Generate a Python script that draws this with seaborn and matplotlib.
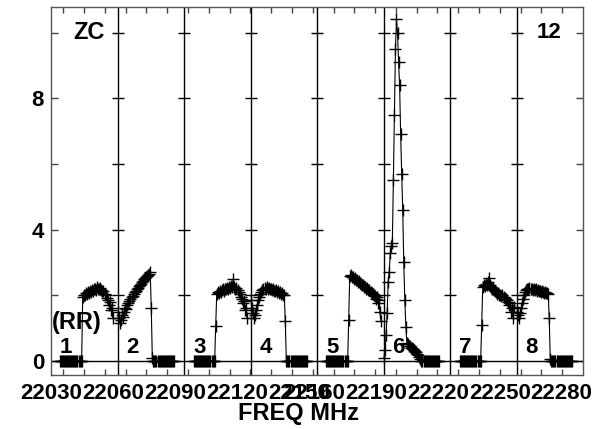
import numpy as np
import pandas as pd
import matplotlib
matplotlib.use("Agg")
import matplotlib.pyplot as plt
import seaborn as sns

nan = np.nan

# intensity per channel (64 channels) for each of the 8 sub-bands
band1 = [nan, nan, nan, nan, nan, nan, nan, nan,
         0.0, 0.0, 0.0, 0.0, 0.0, 0.0, 0.0, 0.0, 0.0, 0.0, 0.0,
         0.0, 0.0, 0.0, 0.0, 0.0, 0.0, 0.0, 0.0, 0.0, 0.0, 0.0,
         1.95, 2.02, 2.0, 2.06, 2.04, 2.1, 2.08, 2.12, 2.1, 2.15,
         2.13, 2.18, 2.2, 2.16, 2.24, 2.2, 2.18, 2.22, 2.15, 2.12,
         2.14, 2.05, 2.0, 1.92, 1.85, 1.7, 1.78, 1.55, 1.62, 1.3,
         nan, nan, nan, nan]
band2 = [1.5, 1.3, 1.15, 1.25, 1.4, 1.35, 1.5, 1.6, 1.58, 1.7,
         1.75, 1.82, 1.88, 1.95, 1.98, 2.05, 2.1, 2.12, 2.18, 2.22,
         2.28, 2.3, 2.35, 2.4, 2.42, 2.48, 2.52, 2.55, 2.6, 2.62, 2.66, 2.7,
         1.6, 0.1,
         0.0, 0.0, 0.0, 0.0, 0.0, 0.0, 0.0, 0.0, 0.0, 0.0, 0.0,
         0.0, 0.0, 0.0, 0.0, 0.0, 0.0, 0.0, 0.0, 0.0, 0.0,
         nan, nan, nan, nan, nan, nan, nan, nan, nan]
band3 = [nan, nan, nan, nan, nan, nan, nan, nan, nan,
         0.0, 0.0, 0.0, 0.0, 0.0, 0.0, 0.0, 0.0, 0.0, 0.0, 0.0,
         0.0, 0.0, 0.0, 0.0, 0.0, 0.0, 0.0, 0.0, 0.0, 0.0,
         1.05,
         2.05, 2.1, 2.08, 2.12, 2.1, 2.15, 2.18, 2.14, 2.2, 2.18,
         2.22, 2.2, 2.25, 2.22, 2.28, 2.24, 2.5, 2.26, 2.2, 2.22,
         2.15, 2.1, 2.05, 1.95, 1.88, 1.75, 1.82, 1.55, 1.62, 1.3,
         nan, nan, nan]
band4 = [1.85, 1.6, 1.45, 1.3, 1.4, 1.55, 1.7, 1.85, 1.95, 2.05,
         2.1, 2.15, 2.18, 2.22, 2.2, 2.25, 2.2, 2.22, 2.18, 2.2,
         2.16, 2.18, 2.14, 2.12, 2.15, 2.1, 2.12, 2.08, 2.1, 2.05,
         2.06, 2.02, 2.0,
         1.2,
         0.0, 0.0, 0.0, 0.0, 0.0, 0.0, 0.0, 0.0, 0.0, 0.0, 0.0,
         0.0, 0.0, 0.0, 0.0, 0.0, 0.0, 0.0, 0.0, 0.0, 0.0,
         nan, nan, nan, nan, nan, nan, nan, nan, nan]
band5 = [nan, nan, nan, nan, nan, nan, nan, nan,
         0.0, 0.0, 0.0, 0.0, 0.0, 0.0, 0.0, 0.0, 0.0, 0.0, 0.0,
         0.0, 0.0, 0.0, 0.0, 0.0, 0.0, 0.0, 0.0, 0.0, 0.0, 0.0,
         1.25,
         2.6, 2.62, 2.56, 2.55, 2.5, 2.52, 2.46, 2.45, 2.4, 2.42,
         2.36, 2.35, 2.3, 2.32, 2.26, 2.25, 2.2, 2.22, 2.16, 2.15,
         2.1, 2.08, 2.04, 2.0, 1.98, 1.9, 1.95, 1.75, 1.85, 1.5, 1.22,
         nan, nan]
band6 = [0.1, 0.33, 0.8, 1.46, 2.4, 2.7, 3.3, 3.5, 3.6, 5.5,
         7.5, 9.5, 10.4, 10.0, 9.1, 8.4, 6.9, 5.7, 4.6, 3.0,
         1.86, 1.04, 0.55,
         0.5, 0.46, 0.44, 0.4, 0.38, 0.35, 0.32, 0.3, 0.26, 0.22,
         0.18, 0.12, 0.06,
         0.0, 0.0, 0.0, 0.0, 0.0, 0.0, 0.0, 0.0, 0.0,
         0.0, 0.0, 0.0, 0.0, 0.0, 0.0, 0.0, 0.0, 0.0,
         nan, nan, nan, nan, nan, nan, nan, nan, nan, nan]
band7 = [nan, nan, nan, nan, nan, nan, nan, nan, nan,
         0.0, 0.0, 0.0, 0.0, 0.0, 0.0, 0.0, 0.0, 0.0, 0.0, 0.0,
         0.0, 0.0, 0.0, 0.0, 0.0, 0.0, 0.0, 0.0, 0.0, 0.0,
         1.1,
         2.25, 2.3, 2.28, 2.35, 2.32, 2.4, 2.52, 2.3, 2.25, 2.2,
         2.22, 2.15, 2.12, 2.1, 2.05, 2.08, 2.02, 2.0, 1.98, 2.0,
         1.95, 1.92, 1.9, 1.85, 1.8, 1.7, 1.75, 1.5, 1.6, 1.3, 1.65,
         nan, nan]
band8 = [1.5, 1.4, 1.3, 1.45, 1.6, 1.75, 1.9, 2.0, 2.1, 2.15,
         2.18, 2.2, 2.22, 2.18, 2.2, 2.16, 2.2, 2.15, 2.18, 2.14,
         2.15, 2.12, 2.14, 2.1, 2.12, 2.1, 2.08, 2.1, 2.06, 2.08, 2.05,
         1.3, 0.05,
         0.0, 0.0, 0.0, 0.0, 0.0, 0.0, 0.0, 0.0, 0.0, 0.0, 0.0,
         0.0, 0.0, 0.0, 0.0, 0.0, 0.0, 0.0, 0.0, 0.0, 0.0,
         nan, nan, nan, nan, nan, nan, nan, nan, nan, nan]

bands = [band1, band2, band3, band4, band5, band6, band7, band8]
band_names = ["1", "2", "3", "4", "5", "6", "7", "8"]

freq_labels = ["22030", "22060", "22090", "22120", "22150",
               "22160", "22190", "22220", "22250", "22280"]
freq_pos = [0.0, 0.93, 1.865, 2.8, 3.73, 3.955, 4.885, 5.82, 6.75, 7.67]

rows = []
for b, vals in enumerate(bands):
    n = len(vals)
    for i, v in enumerate(vals):
        rows.append((b, b + (i + 0.5) / n, v))
df = pd.DataFrame(rows, columns=["band", "x", "y"]).dropna()

sns.set_style("ticks")
plt.rcParams["font.family"] = ["Liberation Sans", "DejaVu Sans"]
plt.rcParams["font.weight"] = "bold"
plt.rcParams["text.color"] = "black"
plt.rcParams["axes.labelcolor"] = "black"
plt.rcParams["xtick.color"] = "black"
plt.rcParams["ytick.color"] = "black"

fig = plt.figure(figsize=(5.97, 4.29), dpi=100)
ax = fig.add_axes([51 / 597, 1 - 375 / 429, 532 / 597, 368 / 429])

# baseline and sub-band separators
ax.axhline(0, color="black", lw=1, zorder=1)
for b in range(1, 8):
    ax.axvline(b, color="black", lw=1, zorder=1)
    ax.scatter([b] * 5, [2, 4, 6, 8, 10], marker="_", s=75, color="black", lw=1, zorder=1)

sns.lineplot(data=df, x="x", y="y", units="band", estimator=None, color="black",
             marker="+", markersize=8.3, markeredgewidth=1, markeredgecolor="black",
             lw=0.8, ax=ax)

ax.set_xlim(0, 8)
ax.set_ylim(-0.43, 10.78)

ax.set_yticks([0, 2, 4, 6, 8, 10], ["0", "", "4", "", "8", ""])
ax.tick_params(axis="y", direction="in", length=5, width=1, right=True, pad=5,
               labelsize=16, color="#444444", labelcolor="black")

ax.set_xticks(freq_pos, freq_labels)
ax.set_xticks(np.arange(0.185, 7.8, 0.3126), minor=True)
ax.tick_params(axis="x", which="major", length=0, pad=5.5, labelsize=16, labelcolor="black")
ax.tick_params(axis="x", which="minor", direction="in", length=4, width=1,
               top=True, bottom=True, color="#444444")

for sp in ax.spines.values():
    sp.set_color("#555555")
    sp.set_linewidth(1)

ax.set_ylabel("")
ax.set_xlabel("FREQ MHz", fontsize=17, fontweight="bold", color="black")
ax.xaxis.set_label_coords(0.4652, -0.073)

ax.text(0.571, 10.0, "ZC", ha="center", va="center", fontsize=17, fontweight="bold")
ax.text(7.49, 10.0, "12", ha="center", va="center", fontsize=16, fontweight="bold")
ax.text(0.02, 1.17, "(RR)", ha="left", va="center", fontsize=17, fontweight="bold")
for b, name in enumerate(band_names):
    ax.text(b + 0.23, 0.42, name, ha="center", va="center", fontsize=16, fontweight="bold")

fig.savefig("out.png", dpi=100)
